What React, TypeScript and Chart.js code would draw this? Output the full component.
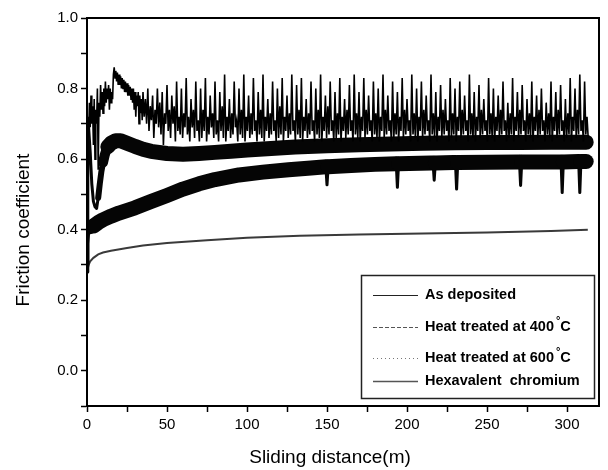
import React, { useEffect, useRef } from 'react';
import { Chart, registerables } from 'chart.js';

Chart.register(...registerables);

// ---------- data ----------
const seriesLabels = [
  'As deposited',
  'Heat treated at 400°C',
  'Heat treated at 600°C',
  'Hexavalent  chromium',
];

const xTickLabels = ['0', '50', '100', '150', '200', '250', '300'];
const yTickLabels = ['0.0', '0.2', '0.4', '0.6', '0.8', '1.0'];

// As deposited: early part sampled every 0.5 m from 0 m
const asDepEarlyStart = 0;
const asDepEarlyStep = 0.5;
const asDepEarly = [
  0.30, 0.72, 0.66, 0.76, 0.69, 0.78, 0.70, 0.75, 0.64, 0.77,
  0.60, 0.74, 0.70, 0.80, 0.57, 0.76, 0.72, 0.81, 0.74, 0.79,
  0.73, 0.80, 0.75, 0.82, 0.76, 0.80, 0.77, 0.81, 0.74, 0.80,
  0.76, 0.79, 0.77, 0.84, 0.86, 0.83, 0.85, 0.82, 0.845, 0.81,
  0.84, 0.81, 0.835, 0.80, 0.83, 0.80, 0.825, 0.79, 0.82, 0.79,
  0.815, 0.78, 0.81, 0.78, 0.805, 0.77, 0.80, 0.76, 0.80, 0.74,
  0.79, 0.72, 0.78, 0.75, 0.79, 0.70, 0.78, 0.73, 0.77, 0.71,
];
// As deposited: stick-slip part sampled every 0.75 m from 35 m
const asDepSpikeStart = 35;
const asDepSpikeStep = 0.75;
const asDepSpikes = [
  0.79, 0.72, 0.77, 0.70, 0.80, 0.68, 0.75, 0.71, 0.78, 0.66, 0.74, 0.70,
  0.80, 0.69, 0.76, 0.67, 0.79, 0.64, 0.73, 0.70, 0.81, 0.68, 0.74, 0.66,
  0.78, 0.70, 0.75, 0.65, 0.82, 0.68, 0.72, 0.67, 0.80, 0.66, 0.73, 0.69,
  0.83, 0.67, 0.72, 0.65, 0.77, 0.69, 0.74, 0.66, 0.82, 0.68, 0.71, 0.65,
  0.80, 0.66, 0.74, 0.68, 0.83, 0.65, 0.72, 0.67, 0.78, 0.69, 0.73, 0.66,
  0.82, 0.67, 0.71, 0.65, 0.79, 0.68, 0.75, 0.66, 0.84, 0.65, 0.72, 0.68,
  0.77, 0.66, 0.73, 0.67, 0.82, 0.69, 0.71, 0.65, 0.80, 0.67, 0.74, 0.66,
  0.84, 0.65, 0.72, 0.68, 0.78, 0.66, 0.73, 0.67, 0.83, 0.68, 0.71, 0.65,
  0.79, 0.67, 0.74, 0.66, 0.84, 0.65, 0.72, 0.68, 0.77, 0.66, 0.73, 0.67,
  0.82, 0.68, 0.71, 0.65, 0.80, 0.66, 0.75, 0.67, 0.83, 0.65, 0.72, 0.68,
  0.78, 0.66, 0.73, 0.67, 0.84, 0.68, 0.71, 0.65, 0.81, 0.67, 0.74, 0.66,
  0.83, 0.65, 0.72, 0.68, 0.77, 0.66, 0.73, 0.67, 0.82, 0.68, 0.71, 0.65,
  0.80, 0.67, 0.74, 0.66, 0.84, 0.65, 0.72, 0.68, 0.78, 0.66, 0.75, 0.67,
  0.82, 0.68, 0.71, 0.65, 0.79, 0.66, 0.73, 0.67, 0.83, 0.65, 0.72, 0.68,
  0.77, 0.66, 0.74, 0.67, 0.81, 0.68, 0.71, 0.65, 0.84, 0.67, 0.73, 0.66,
  0.79, 0.65, 0.72, 0.68, 0.83, 0.66, 0.74, 0.67, 0.78, 0.68, 0.71, 0.65,
  0.82, 0.67, 0.73, 0.66, 0.80, 0.65, 0.72, 0.68, 0.84, 0.66, 0.74, 0.67,
  0.78, 0.68, 0.71, 0.65, 0.82, 0.66, 0.73, 0.67, 0.79, 0.65, 0.72, 0.68,
  0.83, 0.66, 0.74, 0.67, 0.77, 0.68, 0.71, 0.65, 0.84, 0.67, 0.73, 0.66,
  0.80, 0.65, 0.72, 0.68, 0.82, 0.66, 0.74, 0.67, 0.78, 0.68, 0.71, 0.65,
  0.84, 0.67, 0.73, 0.66, 0.79, 0.65, 0.72, 0.68, 0.81, 0.66, 0.74, 0.67,
  0.77, 0.68, 0.71, 0.65, 0.83, 0.66, 0.73, 0.67, 0.80, 0.65, 0.72, 0.68,
  0.82, 0.66, 0.74, 0.67, 0.78, 0.68, 0.71, 0.65, 0.84, 0.67, 0.73, 0.66,
  0.79, 0.65, 0.72, 0.68, 0.81, 0.66, 0.74, 0.67, 0.77, 0.68, 0.71, 0.65,
  0.83, 0.67, 0.73, 0.66, 0.80, 0.65, 0.72, 0.68, 0.78, 0.66, 0.74, 0.67,
  0.82, 0.68, 0.71, 0.65, 0.76, 0.66, 0.73, 0.67, 0.83, 0.65, 0.72, 0.68,
  0.79, 0.66, 0.74, 0.67, 0.81, 0.68, 0.71, 0.65, 0.77, 0.67, 0.73, 0.66,
  0.82, 0.65, 0.72, 0.68, 0.78, 0.66, 0.74, 0.67, 0.80, 0.68, 0.71, 0.65,
  0.76, 0.67, 0.73, 0.66, 0.82, 0.65, 0.72, 0.68, 0.79, 0.66, 0.74, 0.67,
  0.81, 0.68, 0.71, 0.65, 0.77, 0.66, 0.73, 0.67, 0.83, 0.65, 0.72, 0.68,
  0.80, 0.66, 0.74, 0.67, 0.84, 0.68, 0.71, 0.65, 0.82, 0.67, 0.72, 0.66,
];
// level below which the stick-slip trace forms a solid dark mass
const asDepMassLevel = 0.6995;

// Heat treated at 400 °C
const ht400Dist = [
  0, 0.5, 1, 2, 3, 4, 5, 6, 7, 8, 9, 10, 11, 12, 13, 15, 18, 21, 25, 30,
  35, 40, 50, 60, 70, 80, 90, 100, 115, 130, 150, 170, 190, 210, 230, 250,
  270, 290, 312,
];
const ht400Cof = [
  0.30, 0.60, 0.69, 0.62, 0.53, 0.48, 0.465, 0.46, 0.49, 0.53, 0.565, 0.59,
  0.61, 0.625, 0.635, 0.645, 0.652, 0.652, 0.645, 0.636, 0.628, 0.622, 0.616,
  0.614, 0.616, 0.619, 0.622, 0.626, 0.63, 0.634, 0.638, 0.641, 0.643, 0.645,
  0.646, 0.647, 0.647, 0.648, 0.648,
];

// Heat treated at 600 °C
const ht600Dist = [
  0, 0.5, 1, 2, 4, 7, 10, 15, 20, 30, 40, 50, 60, 70, 80, 95, 110, 126, 140,
  149.3, 150, 150.7, 165, 180, 193.3, 194, 194.7, 215, 216.3, 217, 217.7,
  229, 230.3, 231, 231.7, 250, 269, 270.3, 271, 271.7, 285, 296.3, 297, 297.7,
  307.3, 308, 308.7, 312,
];
const ht600Cof = [
  0.28, 0.36, 0.39, 0.40, 0.41, 0.42, 0.428, 0.438, 0.447, 0.462, 0.48, 0.497,
  0.515, 0.53, 0.542, 0.555, 0.563, 0.57, 0.575,
  0.578, 0.527, 0.578, 0.582, 0.585, 0.587, 0.52, 0.587, 0.589, 0.589, 0.54, 0.589,
  0.59, 0.59, 0.515, 0.59, 0.591, 0.592, 0.592, 0.525, 0.592, 0.592, 0.592, 0.505, 0.592,
  0.593, 0.505, 0.593, 0.593,
];

// Hexavalent chromium
const hexDist = [
  0, 0.5, 1, 2, 4, 7, 10, 15, 25, 35, 50, 75, 100, 133, 170, 200, 250, 290, 313,
];
const hexCof = [
  0.28, 0.29, 0.30, 0.31, 0.32, 0.33, 0.335, 0.34, 0.348, 0.355, 0.362, 0.37,
  0.377, 0.383, 0.386, 0.388, 0.392, 0.396, 0.40,
];

// ---------- helpers ----------
const FONT = '"Liberation Sans", Arial, Helvetica, sans-serif';

function stepped(start: number, step: number, vals: number[]) {
  return vals.map((y, i) => ({ x: start + i * step, y }));
}
function paired(xs: number[], ys: number[]) {
  return xs.map((x, i) => ({ x, y: ys[i] }));
}
function steepSegment(c: any) {
  const dx = Math.abs(c.p1.parsed.x - c.p0.parsed.x) || 1e-9;
  return Math.abs(c.p1.parsed.y - c.p0.parsed.y) / dx > 0.011;
}

const legendStyles = [
  { color: '#222', dash: [] as number[], width: 1 },
  { color: '#555', dash: [4, 2], width: 1 },
  { color: '#777', dash: [1, 3], width: 1 },
  { color: '#555', dash: [] as number[], width: 1.5 },
];
const legendRowOffsets = [20, 52, 83, 106];

const decorPlugin = {
  id: 'decor',
  afterDatasetsDraw(chart: any) {
    const { ctx, chartArea: a } = chart;
    ctx.save();
    ctx.strokeStyle = '#000';
    ctx.lineWidth = 2;
    ctx.strokeRect(a.left, a.top, a.right - a.left, a.bottom - a.top);
    ctx.restore();
  },
  afterDraw(chart: any) {
    const { ctx, chartArea: a } = chart;
    ctx.save();
    // axis titles
    ctx.fillStyle = '#000';
    ctx.textAlign = 'center';
    ctx.textBaseline = 'middle';
    ctx.font = `19px ${FONT}`;
    ctx.fillText('Sliding distance(m)', a.left + 243, a.bottom + 52);
    ctx.save();
    ctx.translate(24, a.top + 212);
    ctx.rotate(-Math.PI / 2);
    ctx.fillText('Friction coefficient', 0, 0);
    ctx.restore();

    // legend box
    const bx = a.right - 238;
    const by = a.bottom - 131;
    const bw = 233;
    const bh = 123;
    ctx.fillStyle = '#fff';
    ctx.fillRect(bx, by, bw, bh);
    ctx.strokeStyle = '#222';
    ctx.lineWidth = 1.5;
    ctx.strokeRect(bx + 0.5, by + 0.5, bw, bh);

    const labels = chart.data.datasets.map((d: any) => d.label);
    labels.forEach((label: string, i: number) => {
      const y = by + legendRowOffsets[i];
      const st = legendStyles[i];
      ctx.beginPath();
      ctx.strokeStyle = st.color;
      ctx.lineWidth = st.width;
      ctx.setLineDash(st.dash);
      ctx.moveTo(bx + 12, y + 0.5);
      ctx.lineTo(bx + 57, y + 0.5);
      ctx.stroke();
      ctx.setLineDash([]);

      ctx.fillStyle = '#000';
      ctx.textAlign = 'left';
      ctx.textBaseline = 'middle';
      ctx.font = `bold 14.5px ${FONT}`;
      const tx = bx + 64;
      const parts = label.split('°');
      ctx.fillText(parts[0], tx, y);
      if (parts.length > 1) {
        const w0 = ctx.measureText(parts[0]).width;
        ctx.font = `bold 11px ${FONT}`;
        ctx.fillText('°', tx + w0 + 2, y - 6);
        const wd = ctx.measureText('°').width;
        ctx.font = `bold 14.5px ${FONT}`;
        ctx.fillText(parts[1], tx + w0 + 2 + wd, y);
      }
    });
    ctx.restore();
  },
};

export default function App() {
  const ref = useRef<HTMLCanvasElement | null>(null);

  useEffect(() => {
    if (!ref.current) return;
    const chart = new Chart(ref.current, {
      type: 'line',
      data: {
        datasets: [
          {
            label: seriesLabels[0],
            data: [
              ...stepped(asDepEarlyStart, asDepEarlyStep, asDepEarly),
              ...stepped(asDepSpikeStart, asDepSpikeStep, asDepSpikes),
            ],
            borderColor: '#000',
            borderWidth: 1.6,
            fill: {
              target: { value: asDepMassLevel },
              above: 'rgba(0,0,0,0)',
              below: '#000',
            },
            pointRadius: 0,
            tension: 0,
            clip: 0,
            order: 0,
          },
          {
            label: seriesLabels[1],
            data: paired(ht400Dist, ht400Cof),
            borderColor: '#050505',
            borderWidth: 15,
            borderJoinStyle: 'round',
            borderCapStyle: 'round',
            segment: {
              borderWidth: (c: any) => {
                const x = c.p0.parsed.x;
                if (x < 7) return 3;
                if (x < 10) return 6;
                if (x < 13) return 10;
                return 15;
              },
            },
            pointRadius: 0,
            tension: 0,
            clip: 0,
            order: 1,
          },
          {
            label: seriesLabels[2],
            data: paired(ht600Dist, ht600Cof),
            borderColor: '#050505',
            borderWidth: 15,
            borderJoinStyle: 'round',
            borderCapStyle: 'round',
            segment: {
              borderWidth: (c: any) => {
                const x = c.p0.parsed.x;
                if (x < 1.5 || steepSegment(c)) return 3;
                if (x < 4) return 9;
                return 15;
              },
            },
            pointRadius: 0,
            tension: 0,
            clip: 0,
            order: 2,
          },
          {
            label: seriesLabels[3],
            data: paired(hexDist, hexCof),
            borderColor: '#3a3a3a',
            borderWidth: 2,
            pointRadius: 0,
            tension: 0,
            clip: 0,
            order: 3,
          },
        ],
      },
      options: {
        animation: false,
        responsive: false,
        devicePixelRatio: 1,
        layout: { padding: { top: 18, right: 9, left: 0, bottom: 0 } },
        plugins: {
          legend: { display: false },
          tooltip: { enabled: false },
          title: { display: false },
          filler: { propagate: false },
        },
        scales: {
          x: {
            type: 'linear',
            min: 0,
            max: 320,
            afterFit: (s: any) => {
              s.height = 64;
            },
            border: { display: true, color: '#000', width: 2 },
            grid: {
              drawOnChartArea: false,
              drawTicks: true,
              tickLength: 6,
              tickWidth: 1.5,
              tickColor: '#000',
            },
            ticks: {
              stepSize: 25,
              includeBounds: false,
              autoSkip: false,
              maxRotation: 0,
              padding: 4,
              color: '#000',
              font: { family: FONT, size: 15 },
              callback: (v: any) => {
                const lbl = xTickLabels.find((t) => Math.abs(Number(t) - Number(v)) < 1e-6);
                return lbl ?? '';
              },
            },
          },
          y: {
            type: 'linear',
            min: -0.1,
            max: 1.0,
            afterFit: (s: any) => {
              s.width = 87;
            },
            border: { display: true, color: '#000', width: 2 },
            grid: {
              drawOnChartArea: false,
              drawTicks: true,
              tickLength: 6,
              tickWidth: 1.5,
              tickColor: '#000',
            },
            ticks: {
              stepSize: 0.1,
              autoSkip: false,
              padding: 3,
              color: '#000',
              font: { family: FONT, size: 15 },
              callback: (v: any) => {
                const lbl = yTickLabels.find((t) => Math.abs(Number(t) - Number(v)) < 1e-6);
                return lbl ?? '';
              },
            },
          },
        },
      },
      plugins: [decorPlugin],
    } as any);
    return () => chart.destroy();
  }, []);

  return (
    <div style={{ position: 'absolute', left: 0, top: 0, width: 608, height: 470, background: '#fff' }}>
      <canvas ref={ref} width={608} height={470} style={{ display: 'block' }} />
    </div>
  );
}
